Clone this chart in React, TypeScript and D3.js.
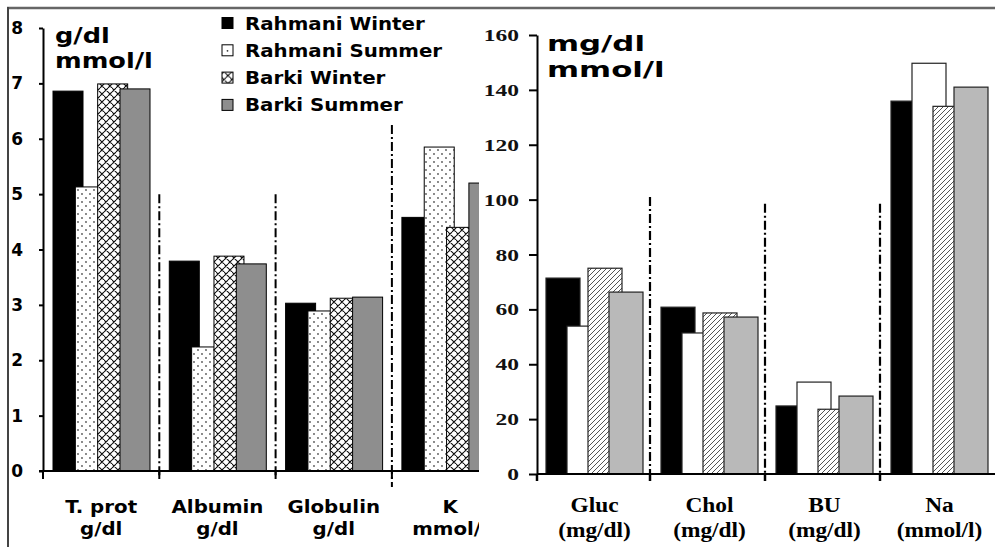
import React, { useEffect, useRef } from "react";
import * as d3 from "d3";

const W = 995;
const H = 547;

const seriesNames = ["Rahmani Winter", "Rahmani Summer", "Barki Winter", "Barki Summer"];

// left panel: g/dl, mmol/l
const leftCats = ["T. prot", "Albumin", "Globulin", "K"];
const leftUnits = ["g/dl", "g/dl", "g/dl", "mmol/l"];
const leftRahmaniWinter = [6.86, 3.79, 3.03, 4.58];
const leftRahmaniSummer = [5.13, 2.24, 2.89, 5.85];
const leftBarkiWinter = [6.99, 3.88, 3.12, 4.4];
const leftBarkiSummer = [6.9, 3.74, 3.14, 5.2];
const leftTicks = [0, 1, 2, 3, 4, 5, 6, 7, 8];
const leftSepTops = [5, 5, 6.25];

// right panel: mg/dl, mmol/l
const rightCats = ["Gluc", "Chol", "BU", "Na"];
const rightUnits = ["(mg/dl)", "(mg/dl)", "(mg/dl)", "(mmol/l)"];
const rightRahmaniWinter = [71.4, 60.8, 24.8, 135.9];
const rightRahmaniSummer = [53.9, 51.4, 33.5, 149.7];
const rightBarkiWinter = [75, 58.7, 23.6, 134];
const rightBarkiSummer = [66.3, 57.2, 28.4, 141];
const rightTicks = [0, 20, 40, 60, 80, 100, 120, 140, 160];
const rightSepTops = [101, 98.5, 98.5];

const SANS = "'DejaVu Sans', Verdana, sans-serif";
const SERIF = "'Liberation Serif', 'Times New Roman', serif";

const App: React.FC = () => {
  const svgRef = useRef<SVGSVGElement | null>(null);

  useEffect(() => {
    const svg = d3.select(svgRef.current);
    svg.selectAll("*").remove();
    svg.attr("width", W).attr("height", H).style("background-color", "#ffffff");

    const defs = svg.append("defs");

    // small dots (Rahmani Summer, left)
    const dots = defs.append("pattern").attr("id", "dots")
      .attr("patternUnits", "userSpaceOnUse").attr("width", 8).attr("height", 8);
    dots.append("rect").attr("width", 8).attr("height", 8).attr("fill", "#fff");
    dots.append("circle").attr("cx", 2).attr("cy", 2).attr("r", 0.9).attr("fill", "#555");
    dots.append("circle").attr("cx", 6).attr("cy", 6).attr("r", 0.9).attr("fill", "#555");

    // zigzag hatch (Barki Winter, left)
    const herr = defs.append("pattern").attr("id", "herr")
      .attr("patternUnits", "userSpaceOnUse").attr("width", 8).attr("height", 8);
    herr.append("rect").attr("width", 8).attr("height", 8).attr("fill", "#fff");
    herr.append("path").attr("d", "M0,0 L8,8 M-1,7 L1,9 M0,4 L4,0 M4,8 L8,4")
      .attr("stroke", "#111").attr("stroke-width", 1.1).attr("fill", "none");

    // diagonal hatch (Barki Winter, right)
    const diag = defs.append("pattern").attr("id", "diag")
      .attr("patternUnits", "userSpaceOnUse").attr("width", 5).attr("height", 5);
    diag.append("rect").attr("width", 5).attr("height", 5).attr("fill", "#fff");
    diag.append("path").attr("d", "M0,5 L5,0 M-1,1 L1,-1 M4,6 L6,4")
      .attr("stroke", "#555").attr("stroke-width", 1).attr("fill", "none");

    const label = (
      g: d3.Selection<any, unknown, null, undefined>,
      x: number, y: number, txt: string, size: number,
      family: string, sx: number, anchor = "middle"
    ) =>
      g.append("text")
        .attr("transform", `translate(${x},${y}) scale(${sx},1)`)
        .attr("text-anchor", anchor)
        .attr("font-family", family)
        .attr("font-weight", "bold")
        .attr("font-size", size)
        .attr("fill", "#000")
        .text(txt);

    //frame
    svg.append("line").attr("x1", 7).attr("x2", W).attr("y1", 8).attr("y2", 8)
      .attr("stroke", "#666").attr("stroke-width", 2.5);
    svg.append("line").attr("x1", 8).attr("x2", 8).attr("y1", 7).attr("y2", H)
      .attr("stroke", "#444").attr("stroke-width", 2);

    // ---------------- left panel ----------------
    const left = svg.append("g");
    const yL = d3.scaleLinear().domain([0, 8]).range([471, 28]);
    const xL = d3.scaleBand().domain(leftCats).range([43, 43 + 116.3 * 4]).padding(0);
    const offL = d3.scaleLinear().domain([0, 3]).range([10, 77]);
    const bwL = 30;
    const leftData = [leftRahmaniWinter, leftRahmaniSummer, leftBarkiWinter, leftBarkiSummer];
    const leftFills = ["#000", "url(#dots)", "url(#herr)", "#8e8e8e"];

    leftCats.forEach((c, i) => {
      leftData.forEach((vals, s) => {
        left.append("rect")
          .attr("x", xL(c)! + offL(s))
          .attr("y", yL(vals[i]))
          .attr("width", bwL)
          .attr("height", yL(0) - yL(vals[i]))
          .attr("fill", leftFills[s])
          .attr("stroke", "#000")
          .attr("stroke-width", 1);
      });
    });

    // separators
    leftSepTops.forEach((t, k) => {
      const x = xL(leftCats[k + 1])!;
      left.append("line").attr("x1", x).attr("x2", x)
        .attr("y1", yL(t)).attr("y2", k === 2 ? 487 : 478)
        .attr("stroke", "#000").attr("stroke-width", 2)
        .attr("stroke-dasharray", "9,3,2,3");
    });

    left.append("g")
      .attr("transform", `translate(43,0)`)
      .call(d3.axisLeft(yL).tickValues(leftTicks).tickSize(4).tickSizeOuter(0).tickFormat(() => ""))
      .call(g => g.selectAll("path,line").attr("stroke", "#000").attr("stroke-width", 2));

    left.append("line").attr("x1", 39).attr("x2", 480).attr("y1", yL(0)).attr("y2", yL(0))
      .attr("stroke", "#000").attr("stroke-width", 2);
    [43, ...leftCats.slice(1).map(c => xL(c)!)].forEach(x => {
      left.append("line").attr("x1", x).attr("x2", x).attr("y1", yL(0)).attr("y2", 479)
        .attr("stroke", "#000").attr("stroke-width", 2);
    });

    leftTicks.forEach(t => label(left, 23, yL(t) + 6, String(t), 17, SANS, 1, "end"));

    leftCats.forEach((c, i) => {
      const cx = xL(c)! + xL.bandwidth() / 2;
      label(left, cx, 513, c, 18, SANS, 1.1);
      label(left, cx, 535, leftUnits[i], 18, SANS, 1.1);
    });

    label(left, 55, 43, "g/dl", 21, SANS, 1.22, "start");
    label(left, 55, 68, "mmol/l", 21, SANS, 1.22, "start");

    // legend
    const legend = left.append("g").attr("transform", `translate(222, 23)`);
    const legendFills = ["#000", "#fff", "url(#herr)", "#8e8e8e"];
    seriesNames.forEach((name, i) => {
      const row = legend.append("g").attr("transform", `translate(0, ${i * 27.3})`);
      row.append("rect").attr("x", 0).attr("y", -5.5).attr("width", 11).attr("height", 11)
        .attr("fill", legendFills[i]).attr("stroke", "#000").attr("stroke-width", 1);
      if (i === 1) row.append("circle").attr("cx", 5.5).attr("cy", 0.5).attr("r", 0.9).attr("fill", "#333");
      label(row, 23, 6.5, name, 18, SANS, 1.1, "start");
    });

    // ---------------- right panel ----------------
    const right = svg.append("g");
    right.append("rect").attr("x", 479).attr("y", 11).attr("width", W - 479).attr("height", H - 11)
      .attr("fill", "#fff");

    const yR = d3.scaleLinear().domain([0, 160]).range([474, 35]);
    const xR = d3.scaleBand().domain(rightCats).range([537, 537 + 115 * 4]).padding(0);
    const offR = d3.scaleLinear().domain([0, 3]).range([9, 72]);
    const bwR = 34;
    const rightData = [rightRahmaniWinter, rightRahmaniSummer, rightBarkiWinter, rightBarkiSummer];
    const rightFills = ["#000", "#fff", "url(#diag)", "#b9b9b9"];

    rightCats.forEach((c, i) => {
      rightData.forEach((vals, s) => {
        right.append("rect")
          .attr("x", xR(c)! + offR(s))
          .attr("y", yR(vals[i]))
          .attr("width", bwR)
          .attr("height", yR(0) - yR(vals[i]))
          .attr("fill", rightFills[s])
          .attr("stroke", "#222")
          .attr("stroke-width", 1.2);
      });
    });

    rightSepTops.forEach((t, k) => {
      const x = xR(rightCats[k + 1])! - 2;
      right.append("line").attr("x1", x).attr("x2", x)
        .attr("y1", yR(t)).attr("y2", 474)
        .attr("stroke", "#000").attr("stroke-width", 2.2)
        .attr("stroke-dasharray", "9,3,2,3");
    });

    right.append("g")
      .attr("transform", `translate(537,0)`)
      .call(d3.axisLeft(yR).tickValues(rightTicks).tickSize(8).tickSizeOuter(0).tickFormat(() => ""))
      .call(g => g.selectAll("path,line").attr("stroke", "#000").attr("stroke-width", 2));

    right.append("line").attr("x1", 537).attr("x2", W).attr("y1", yR(0)).attr("y2", yR(0))
      .attr("stroke", "#000").attr("stroke-width", 2);
    [537, ...rightCats.slice(1).map(c => xR(c)! - 2)].forEach(x => {
      right.append("line").attr("x1", x).attr("x2", x).attr("y1", yR(0)).attr("y2", 481)
        .attr("stroke", "#000").attr("stroke-width", 2.5);
    });

    rightTicks.forEach(t => label(right, 519, yR(t) + 6, String(t), 17, SERIF, 1.38, "end")
      .attr("fill", "#111"));

    rightCats.forEach((c, i) => {
      const cx = xR(c)! + xR.bandwidth() / 2;
      label(right, cx, 512, c, 20, SERIF, 1.17);
      label(right, cx, 537, rightUnits[i], 20, SERIF, 1.17);
    });

    label(right, 547, 51, "mg/dl", 22, SANS, 1.4, "start");
    label(right, 547, 77, "mmol/l", 22, SANS, 1.4, "start");
  }, []);

  return (
    <div style={{ position: "absolute", left: 0, top: 0, width: W, height: H }}>
      <svg ref={svgRef}></svg>
    </div>
  );
};

export default App;
